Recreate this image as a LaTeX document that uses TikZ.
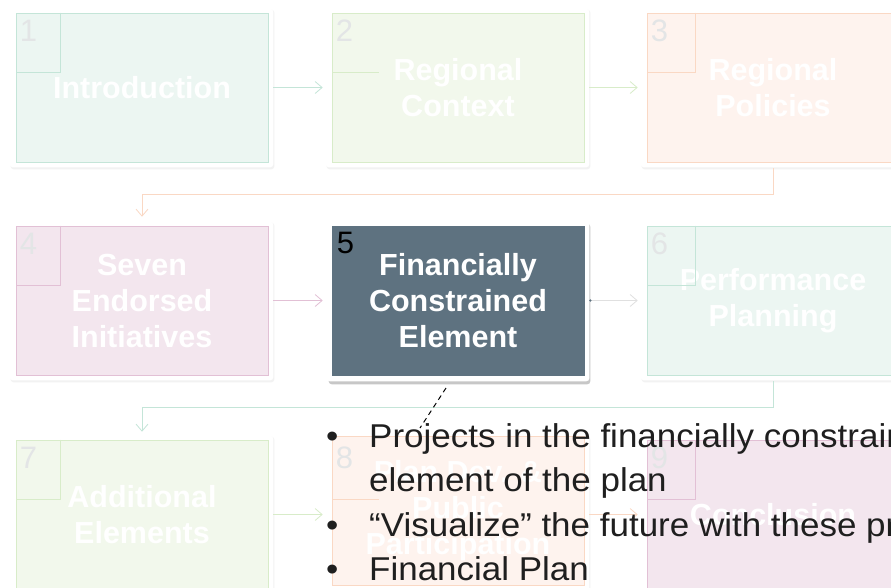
\documentclass[tikz,border=0pt]{standalone}
\usepackage{fontspec}
\setmainfont{Liberation Sans}
\newfontfamily\bulfam[FakeStretch=1.06]{Liberation Sans}
\usetikzlibrary{arrows.meta,calc,backgrounds}
\definecolor{mintfill}{HTML}{ECF6F2}
\definecolor{mintline}{HTML}{C4E5D8}
\definecolor{greenfill}{HTML}{F2F8EC}
\definecolor{greenline}{HTML}{D8ECC9}
\definecolor{peachfill}{HTML}{FEF3EE}
\definecolor{peachline}{HTML}{FAD8C4}
\definecolor{pinkfill}{HTML}{F3E6EE}
\definecolor{pinkline}{HTML}{E2C0D5}
\definecolor{darkfill}{HTML}{5E7280}
\definecolor{numgray}{HTML}{E3E5E6}
\newcommand{\boxfont}{\bfseries\fontsize{30.5}{36}\selectfont}
\newcommand{\bulfont}{\bulfam\fontsize{33}{44.5}\selectfont}
\begin{document}
\begin{tikzpicture}[x=1pt,y=-1pt,
  procbox/.style={rectangle, minimum width=252pt, minimum height=149pt, inner sep=0pt,
    text=white, align=center, font=\boxfont, line width=0.6pt},
  numlabel/.style={anchor=north west, inner sep=0pt, font=\fontsize{31}{31}\selectfont, text=numgray},
  conn/.style={line width=0.8pt, -{Straight Barb[length=7pt,width=12pt,line width=0.8pt]}},
  labline/.style={line width=0.6pt}
]
\clip (0,0) rectangle (891,587);

% boxes
\node[procbox, fill=mintfill, draw=mintline] (b1) at (142,87.5) {Introduction};
\node[procbox, fill=greenfill, draw=greenline] (b2) at (458,87.5) {Regional\\Context};
\node[procbox, fill=peachfill, draw=peachline] (b3) at (773,87.5) {Regional\\Policies};
\node[procbox, fill=pinkfill, draw=pinkline] (b4) at (142,300.5) {Seven\\Endorsed\\Initiatives};
\node[procbox, fill=darkfill, draw=darkfill] (b5) at (458,300.5) {Financially\\Constrained\\Element};
\node[procbox, fill=mintfill, draw=mintline] (b6) at (773,300.5) {Performance\\Planning};
\node[procbox, fill=greenfill, draw=greenline] (b7) at (142,514.5) {Additional\\Elements};
\node[procbox, fill=peachfill, draw=peachline] (b8) at (458,511) {Plan Dev. \&\\Public\\Participation};
\node[procbox, fill=pinkfill, draw=pinkline] (b9) at (773,514.5) {Conclusion};

% frames and shadows
\begin{pgfonlayer}{background}
\fill[white] (0,0) rectangle (891,587);
\foreach \n in {b1,b2,b3,b4,b6,b7,b9} {
  \fill[black!5, rounded corners=3pt] ($(\n.north west)+(-5,-3)$) rectangle ($(\n.south east)+(6,7)$);
  \fill[white, rounded corners=3pt] ($(\n.north west)+(-6,-4)$) rectangle ($(\n.south east)+(5,5)$);
}
\fill[black!5, rounded corners=3pt] ($(b8.north west)+(-5,0.5)$) rectangle ($(b8.south east)+(6,10.5)$);
\fill[white, rounded corners=3pt] ($(b8.north west)+(-6,-0.5)$) rectangle ($(b8.south east)+(5,8.5)$);
\fill[black!22, rounded corners=3pt] ($(b5.north west)+(-3,-2)$) rectangle ($(b5.south east)+(6,9)$);
\fill[white, rounded corners=3pt] ($(b5.north west)+(-5,-5)$) rectangle ($(b5.south east)+(5,6)$);
\end{pgfonlayer}

% number label corners
\draw[labline, mintline] ($(b1.north west)+(45,0)$) |- ($(b1.north west)+(0,60)$);
\draw[labline, greenline] ($(b2.north west)+(47,60)$) -- ($(b2.north west)+(0,60)$);
\draw[labline, peachline] ($(b3.north west)+(49,0)$) |- ($(b3.north west)+(0,60)$);
\draw[labline, pinkline] ($(b4.north west)+(45,0)$) |- ($(b4.north west)+(0,60)$);
\draw[labline, mintline] ($(b6.north west)+(49,0)$) |- ($(b6.north west)+(0,60)$);
\draw[labline, greenline] ($(b7.north west)+(45,0)$) |- ($(b7.north west)+(0,60)$);
\draw[labline, peachline] ($(b8.north west)+(47,63.5)$) -- ($(b8.north west)+(0,63.5)$);
\draw[labline, pinkline] ($(b9.north west)+(49,0)$) |- ($(b9.north west)+(0,60)$);

% numbers
\node[numlabel] (n1) at ($(b1.north west)+(4,7)$) {1};
\node[numlabel] (n2) at ($(b2.north west)+(4,7)$) {2};
\node[numlabel] (n3) at ($(b3.north west)+(4,7)$) {3};
\node[numlabel] (n4) at ($(b4.north west)+(4,7)$) {4};
\node[numlabel, text=black] (n5) at ($(b5.north west)+(5,6)$) {5};
\node[numlabel] (n6) at ($(b6.north west)+(4,7)$) {6};
\node[numlabel] (n7) at ($(b7.north west)+(4,7)$) {7};
\node[numlabel] (n8) at ($(b8.north west)+(4,10.5)$) {8};
\node[numlabel] (n9) at ($(b9.north west)+(4,7)$) {9};

% connectors
\draw[conn, mintline, shorten <=5pt, shorten >=9pt] (b1.east) -- (b2.west);
\draw[conn, greenline, shorten <=5pt, shorten >=9pt] (b2.east) -- (b3.west);
\draw[conn, peachline, shorten <=6pt, shorten >=9pt] (b3.south) -- ++(0,32) -| (b4.north);
\draw[conn, pinkline, shorten <=5pt, shorten >=9pt] (b4.east) -- (b5.west);
\draw[conn, black!12, shorten <=5pt, shorten >=9pt] (b5.east) -- (b6.west);
\fill[darkfill] ($(b5.east)+(6,0)$) circle (1.3pt);
\draw[conn, mintline, shorten <=6pt, shorten >=8pt] (b6.south) -- ++(0,32) -| (b7.north);
\draw[conn, greenline, shorten <=5pt, shorten >=9pt] (b7.east) -- ($(b8.west)+(0,3.5)$);
\draw[conn, peachline, shorten <=5pt, shorten >=9pt] ($(b8.east)+(0,3.5)$) -- (b9.west);

% callout
\coordinate (c1) at (446,388);
\coordinate (c2) at (420,428);
\draw[black, line width=1pt, dash pattern=on 5pt off 4pt] (c1) -- (c2);

% bullet text
\node[anchor=base west, inner sep=0pt, font=\bulfont, text=black!88] (txt) at (326,447) {%
\begin{tabular}[t]{@{}p{43pt}@{}l@{}}
\textbullet & Projects in the financially constrained\\
 & element of the plan\\
\textbullet & “Visualize” the future with these projects\\
\textbullet & Financial Plan
\end{tabular}};
\end{tikzpicture}
\end{document}
